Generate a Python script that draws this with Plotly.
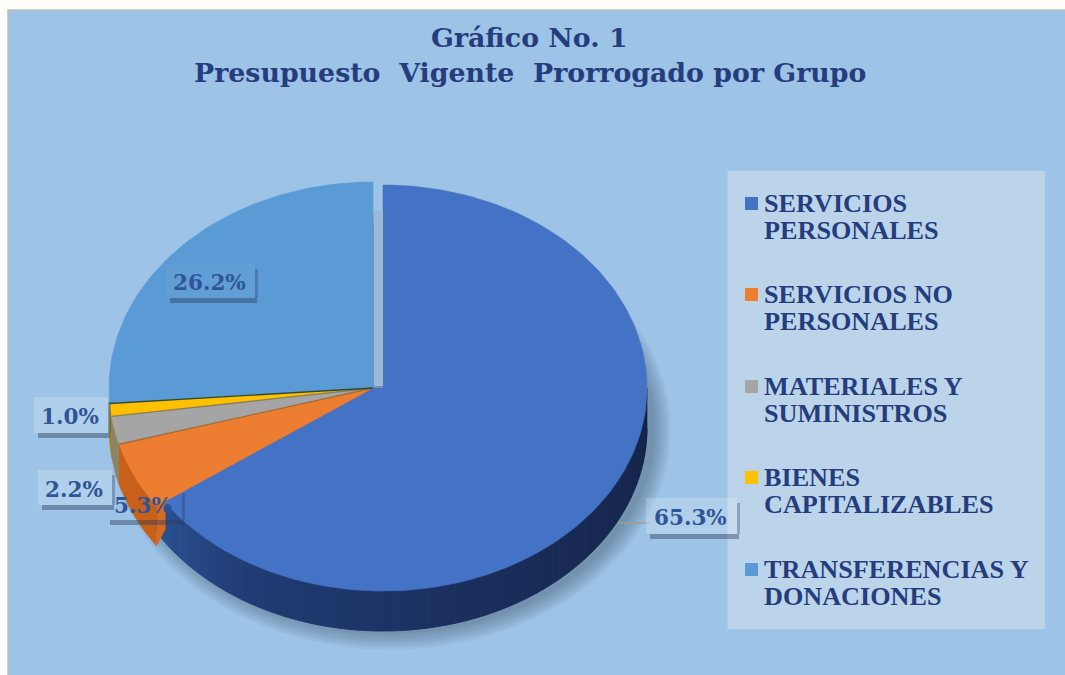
import math
import plotly.graph_objects as go

categories = ["SERVICIOS\nPERSONALES", "SERVICIOS NO\nPERSONALES", "MATERIALES Y\nSUMINISTROS",
              "BIENES\nCAPITALIZABLES", "TRANSFERENCIAS Y\nDONACIONES"]
values = [65.3, 5.3, 2.2, 1.0, 26.2]
value_labels = ["65.3%", "5.3%", "2.2%", "1.0%", "26.2%"]
title_lines = ["Gráfico No. 1", "Presupuesto  Vigente  Prorrogado por Grupo"]

colors = ["#4472C4", "#ED7D31", "#A5A5A5", "#FFC000", "#5B9BD5"]
wall_colors = ["#1E3566", "#C8601A", "#8A8468", "#A88000", "#3A6A9A"]
FONT = "Liberation Serif"
FONT_WIDE = "DejaVu Serif"
NAVY = "#253C7D"
LABEL = "#2F5597"

RX, DEPTH = 264, 40
CY = 388
CENTERS = [383, 373, 373, 373, 373]
RADII_Y = [203, 206, 206, 206, 206]


def pt(i, a, dy=0):
    r = math.radians(a)
    return CENTERS[i] + RX * math.sin(r), CY + dy - RADII_Y[i] * math.cos(r)


def arc(i, a0, a1, dy=0):
    n = max(2, int(abs(a1 - a0) / 1.5) + 1)
    return [pt(i, a0 + (a1 - a0) * k / (n - 1), dy) for k in range(n)]


def lerp_color(t):
    stops = [(0.0, (20, 34, 72)), (0.45, (26, 46, 92)), (0.8, (32, 60, 116)), (1.0, (44, 84, 150))]
    for (t0, c0), (t1, c1) in zip(stops, stops[1:]):
        if t <= t1:
            f = (t - t0) / (t1 - t0)
            return "rgb(%d,%d,%d)" % tuple(round(c0[j] + (c1[j] - c0[j]) * f) for j in range(3))
    return "rgb(44,84,150)"


fig = go.Figure()


def poly(points, color, width=0.6):
    fig.add_trace(go.Scatter(x=[p[0] for p in points], y=[p[1] for p in points], mode="lines",
                             fill="toself", fillcolor=color, line=dict(color=color, width=width),
                             hoverinfo="skip", showlegend=False))


# soft shadow below the pie
for k in range(7):
    a = [(390 + (RX + 1 + k * 2.6) * math.sin(math.radians(d)),
          CY + DEPTH + 2 - (RADII_Y[0] + 1 + k * 2.6) * math.cos(math.radians(d))) for d in range(0, 361, 3)]
    poly(a, "rgba(40,50,75,0.055)", 0)

# slice angles from the values
total = sum(values)
angles = [0]
for v in values:
    angles.append(angles[-1] + v / total * 360)

# side wall of the large slice, carried slightly under the next slice
a0, a1 = max(angles[0], 90), min(angles[1] + 5, 270)
step = 2
a = a0
while a < a1:
    b = min(a + step, a1)
    poly(arc(0, a, b) + arc(0, b, a, DEPTH), lerp_color((a - a0) / (a1 - a0)), 1)
    a = b
# remaining walls
for i in range(1, 4):
    a0, a1 = max(angles[i], 90), min(angles[i + 1], 270)
    if a1 > a0:
        poly(arc(i, a0, a1) + arc(i, a1, a0, DEPTH), wall_colors[i])
# cut face at the tip of the orange slice
tip = pt(1, angles[1])
inner = (tip[0] + (CENTERS[1] - tip[0]) * 0.04, tip[1] + (CY - tip[1]) * 0.04)
poly([tip, inner, (inner[0], inner[1] + DEPTH * 0.7), (tip[0], tip[1] + DEPTH)], "#D96B20")

# top faces
blue = [(CENTERS[0], CY)] + arc(0, angles[0], angles[1] + 4) + [(CENTERS[1], CY)]
poly(blue, colors[0])
for i in [4, 3, 2, 1]:
    c = (CENTERS[i], CY)
    poly([c] + arc(i, angles[i], angles[i + 1]) + [c], colors[i])

# dark seams between small slices
for i, col in [(2, "rgba(120,90,40,0.55)"), (3, "rgba(110,100,60,0.6)"), (4, "#2C4A3A")]:
    e = pt(i, angles[i])
    fig.add_trace(go.Scatter(x=[CENTERS[i], e[0]], y=[CY, e[1]], mode="lines",
                             line=dict(color=col, width=1.4), hoverinfo="skip", showlegend=False))

# legend swatches
legend_y = [203.5, 294.5, 386.5, 477.5, 569.5]
fig.add_trace(go.Scatter(x=[751.5] * 5, y=legend_y, mode="markers",
                         marker=dict(symbol="square", size=13, color=colors, line=dict(width=0)),
                         hoverinfo="skip", showlegend=False))

shapes = [
    dict(type="rect", x0=8, x1=1070, y0=10, y1=680, layer="below",
         fillcolor="#9DC3E6", line=dict(color="#BFBFBF", width=1.5)),
    dict(type="rect", x0=727.5, x1=1045, y0=171, y1=629, layer="below",
         fillcolor="#BCD4EA", line=dict(width=0)),
    dict(type="rect", x0=374, x1=383, y0=210, y1=386, layer="above",
         fillcolor="#9DB8D8", line=dict(width=0)),
    dict(type="line", x0=618, x1=650, y0=523, y1=523, layer="above",
         line=dict(color="#A39C92", width=1.5)),
]

annotations = []
for t, y in zip(title_lines, [37, 72]):
    annotations.append(dict(x=529.5, y=y, text=t, showarrow=False, xanchor="center", yanchor="middle",
                            font=dict(family=FONT_WIDE, size=26.8, color=NAVY, weight=700)))

for name, y in zip(categories, [203, 294.5, 386, 477.5, 569]):
    for j, line in enumerate(name.split("\n")):
        annotations.append(dict(x=762, y=y + j * 27, text=line, showarrow=False, xanchor="left",
                                yanchor="middle", font=dict(family=FONT, size=26.2, color=NAVY, weight=700)))

# label boxes: x0, x1, y0, y1, box tint
boxes = {"65.3%": (646, 737, 498, 534, 0.2), "5.3%": (106, 182, 488, 520, 0.0),
         "2.2%": (38, 112, 470, 505, 0.2), "1.0%": (34, 108, 397, 433, 0.2),
         "26.2%": (166, 255, 264, 298, 0.04)}
for text in value_labels:
    x0, x1, y0, y1, tint = boxes[text]
    if tint:
        shapes.append(dict(type="rect", x0=x0, x1=x1, y0=y0, y1=y1, layer="above",
                           fillcolor="rgba(255,255,255,%g)" % tint, line=dict(width=0)))
    shapes.append(dict(type="rect", x0=x0 + 4, x1=x1 + 2, y0=y1, y1=y1 + 5, layer="above",
                       fillcolor="rgba(45,60,90,0.42)", line=dict(width=0)))
    shapes.append(dict(type="rect", x0=x1, x1=x1 + 3, y0=y0 + 5, y1=y1, layer="above",
                       fillcolor="rgba(45,60,90,0.32)", line=dict(width=0)))
    annotations.append(dict(x=(x0 + x1) / 2 - 1, y=(y0 + y1) / 2 + 1.5, text=text, showarrow=False,
                            xanchor="center", yanchor="middle",
                            font=dict(family=FONT_WIDE, size=21.5, color=LABEL, weight=700)))

fig.update_layout(
    width=1065, height=675, margin=dict(l=0, r=0, t=0, b=0), autosize=False,
    paper_bgcolor="#FFFDFB", plot_bgcolor="rgba(0,0,0,0)", showlegend=False,
    xaxis=dict(range=[0, 1065], visible=False, fixedrange=True),
    yaxis=dict(range=[675, 0], visible=False, fixedrange=True),
    shapes=shapes, annotations=annotations,
)
fig.write_html("out.html", config={"displayModeBar": False},
               post_script="document.body.style.margin='0';document.body.style.overflow='hidden';")
